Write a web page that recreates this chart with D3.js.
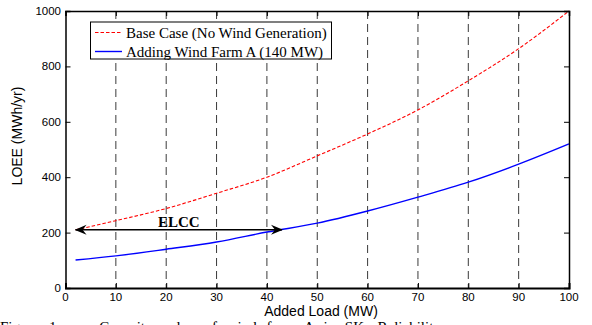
<!DOCTYPE html>
<html>
<head>
<meta charset="utf-8">
<script src="https://cdn.jsdelivr.net/npm/d3@7"></script>
<style>
  html, body { margin: 0; padding: 0; background: #fff; overflow: hidden; }
  svg { display: block; }
</style>
</head>
<body>
<svg id="chart" width="592" height="325"></svg>
<script>
// Added load (MW) at which LOEE was evaluated
const addedLoad = [2, 10, 20, 30, 40, 50, 60, 70, 80, 90, 100];
// LOEE (MWh/yr) without wind generation
const baseCase = [210, 243, 287, 342, 400, 477, 556, 643, 748, 864, 1000];
// LOEE (MWh/yr) after adding wind farm A
const windFarmA = [101, 116, 140, 166, 202, 234, 278, 328, 382, 447, 520];

const xTicks = [0, 10, 20, 30, 40, 50, 60, 70, 80, 90, 100];
const yTicks = [0, 200, 400, 600, 800, 1000];
const gridLoads = [10, 20, 30, 40, 50, 60, 70, 80, 90];

// ELCC: horizontal span at the base-case starting LOEE
const elccLevel = 210;
const elccSpan = [2, 43];

const seriesNames = ["Base Case (No Wind Generation)", "Adding Wind Farm A (140 MW)"];
const captionText = "Figure 1.    Capacity value of wind farm A in SK. Reliability";

const svg = d3.select("#chart");
const x = d3.scaleLinear().domain([0, 100]).range([65.5, 569]);
const y = d3.scaleLinear().domain([0, 1000]).range([288, 11]);

const sans = "Liberation Sans, Arial, sans-serif";
const serif = "Liberation Serif, Times New Roman, serif";

// vertical dashed grid
svg.append("g").selectAll("line").data(gridLoads).join("line")
  .attr("x1", d => x(d)).attr("x2", d => x(d))
  .attr("y1", y(1000)).attr("y2", y(0))
  .attr("stroke", "#3a3a3a").attr("stroke-width", 1)
  .attr("stroke-dasharray", "8,5");

// curves
const line = d3.line().x((d, i) => x(addedLoad[i])).y(d => y(d)).curve(d3.curveMonotoneX);
svg.append("path").datum(baseCase).attr("d", line)
  .attr("fill", "none").attr("stroke", "#ff0000").attr("stroke-width", 1.1)
  .attr("stroke-dasharray", "3.5,2");
svg.append("path").datum(windFarmA).attr("d", line)
  .attr("fill", "none").attr("stroke", "#0000ff").attr("stroke-width", 1.4);

// axes box (MATLAB style, ticks inside on all sides)
const axisBottom = d3.axisBottom(x).tickValues(xTicks).tickSize(-5).tickFormat("");
const axisTop = d3.axisTop(x).tickValues(xTicks).tickSize(-5).tickFormat("");
const axisLeft = d3.axisLeft(y).tickValues(yTicks).tickSize(-5).tickFormat("");
const axisRight = d3.axisRight(y).tickValues(yTicks).tickSize(-5).tickFormat("");
function styleAxis(g, w) {
  g.select(".domain").attr("stroke", "#000").attr("stroke-width", w);
  g.selectAll(".tick line").attr("stroke", "#000").attr("stroke-width", 1);
}
svg.append("g").attr("transform", `translate(0,${y(0)})`).call(axisBottom).call(g => styleAxis(g, 2));
svg.append("g").attr("transform", `translate(0,${y(1000)})`).call(axisTop).call(g => styleAxis(g, 1.5));
svg.append("g").attr("transform", `translate(${x(0)},0)`).call(axisLeft).call(g => styleAxis(g, 1.5));
svg.append("g").attr("transform", `translate(${x(100)},0)`).call(axisRight).call(g => styleAxis(g, 1.5));

// tick labels
svg.append("g").selectAll("text").data(xTicks).join("text")
  .attr("x", d => x(d)).attr("y", 301)
  .attr("text-anchor", "middle").attr("font-family", sans).attr("font-size", 11.5)
  .text(d => d);
svg.append("g").selectAll("text").data(yTicks).join("text")
  .attr("x", 61).attr("y", d => y(d) + 4)
  .attr("text-anchor", "end").attr("font-family", sans).attr("font-size", 11.5)
  .text(d => d);

// axis titles
svg.append("text").attr("x", 321).attr("y", 315.8)
  .attr("text-anchor", "middle").attr("font-family", sans).attr("font-size", 14)
  .text("Added Load (MW)");
svg.append("text").attr("transform", "translate(22,136) rotate(-90)")
  .attr("text-anchor", "middle").attr("font-family", sans).attr("font-size", 14)
  .text("LOEE (MWh/yr)");

// ELCC arrow
const defs = svg.append("defs");
defs.append("marker").attr("id", "elcc-head")
  .attr("viewBox", "0 -6 12 12").attr("refX", 11).attr("refY", 0)
  .attr("markerWidth", 12).attr("markerHeight", 12).attr("markerUnits", "userSpaceOnUse")
  .attr("orient", "auto-start-reverse")
  .append("path").attr("d", "M0,-5 L12,0 L0,5 L4,0 Z").attr("fill", "#000");
svg.append("line")
  .attr("x1", x(elccSpan[0])).attr("x2", x(elccSpan[1]))
  .attr("y1", y(elccLevel)).attr("y2", y(elccLevel))
  .attr("stroke", "#000").attr("stroke-width", 1.5)
  .attr("marker-start", "url(#elcc-head)").attr("marker-end", "url(#elcc-head)");
svg.append("text").attr("x", x((elccSpan[0] + elccSpan[1]) / 2)).attr("y", y(elccLevel) - 2.5)
  .attr("text-anchor", "middle").attr("font-family", serif).attr("font-weight", "bold")
  .attr("font-size", 15).text("ELCC");

// legend
const lg = svg.append("g");
lg.append("rect").attr("x", 90.5).attr("y", 22).attr("width", 241).attr("height", 37)
  .attr("fill", "#fff").attr("stroke", "#000").attr("stroke-width", 1);
const legendStyles = [
  { color: "#ff0000", dash: "3.5,2", w: 1.1 },
  { color: "#0000ff", dash: null, w: 1.4 }
];
seriesNames.forEach((name, i) => {
  const cy = 32.5 + i * 19;
  lg.append("line").attr("x1", 95).attr("x2", 122).attr("y1", cy).attr("y2", cy)
    .attr("stroke", legendStyles[i].color).attr("stroke-width", legendStyles[i].w)
    .attr("stroke-dasharray", legendStyles[i].dash);
  lg.append("text").attr("x", 126).attr("y", cy + 5)
    .attr("font-family", serif).attr("font-size", 15).text(name);
});

// figure caption (runs past the bottom edge of the figure)
svg.append("text").attr("x", 0).attr("y", 332)
  .attr("font-family", serif).attr("font-size", 15)
  .attr("word-spacing", 6)
  .attr("xml:space", "preserve").style("white-space", "pre")
  .text(captionText);
</script>
</body>
</html>
